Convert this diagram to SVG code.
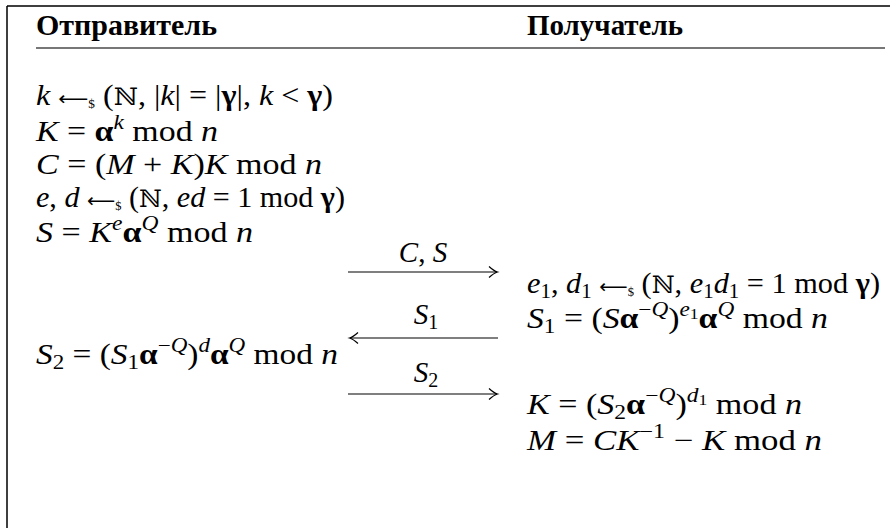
<svg xmlns="http://www.w3.org/2000/svg" width="890" height="528" viewBox="0 0 890 528">
<defs>
<style>
.m{font-family:"Liberation Serif","Times New Roman","DejaVu Serif",serif;font-size:29px;fill:#000}
.h{font-family:"Liberation Serif","Times New Roman","DejaVu Serif",serif;font-size:29px;font-weight:bold;fill:#000}
.i{font-style:italic}
.b{font-weight:bold}
.s{font-size:20px}
.ss{font-size:15px}
.n{font-family:"DejaVu Serif",serif;font-size:24px}
.ar{font-family:"DejaVu Sans",sans-serif;font-size:19px}
.d{font-size:12px}
.line{stroke:#000;stroke-width:1.2;fill:none}
</style>
<marker id="ah" markerWidth="14" markerHeight="14" refX="0" refY="0" viewBox="-10 -7 12 14" orient="auto-start-reverse" markerUnits="userSpaceOnUse">
<path d="M-8,-5.5 Q-3,-1 0.5,0 Q-3,1 -8,5.5" stroke="#000" stroke-width="1.2" fill="none"/>
</marker>
</defs>
<rect width="890" height="528" fill="#fff"/>
<g id="frame">
<path d="M7,6 H890 M7,6 V528" stroke="#000" stroke-width="1.5" fill="none"/>
<path d="M36,48 H885" stroke="#777" stroke-width="1.8"/>
</g>
<g id="sender" font-family="Liberation Serif, serif">
<text class="h" x="36" y="35" textLength="181" lengthAdjust="spacingAndGlyphs">Отправитель</text>
<text class="m" x="36" y="105" textLength="297" lengthAdjust="spacingAndGlyphs"><tspan class="i">k</tspan> <tspan class="ar">⟵</tspan><tspan class="d" dy="3">$</tspan><tspan dy="-3"> (</tspan><tspan class="n">ℕ</tspan>, |<tspan class="i">k</tspan>| = |<tspan class="b">γ</tspan>|, <tspan class="i">k</tspan> &lt; <tspan class="b">γ</tspan>)</text>
<text class="m" x="36" y="141" textLength="182" lengthAdjust="spacingAndGlyphs"><tspan class="i">K</tspan> = <tspan class="b">α</tspan><tspan class="s i" dy="-12">k</tspan><tspan dy="12"> mod </tspan><tspan class="i">n</tspan></text>
<text class="m" x="36" y="174" textLength="286" lengthAdjust="spacingAndGlyphs"><tspan class="i">C</tspan> = (<tspan class="i">M</tspan> + <tspan class="i">K</tspan>)<tspan class="i">K</tspan> mod <tspan class="i">n</tspan></text>
<text class="m" x="36" y="207" textLength="309" lengthAdjust="spacingAndGlyphs"><tspan class="i">e</tspan>, <tspan class="i">d</tspan> <tspan class="ar">⟵</tspan><tspan class="d" dy="3">$</tspan><tspan dy="-3"> (</tspan><tspan class="n">ℕ</tspan>, <tspan class="i">ed</tspan> = 1 mod <tspan class="b">γ</tspan>)</text>
<text class="m" x="36" y="242" textLength="217" lengthAdjust="spacingAndGlyphs"><tspan class="i">S</tspan> = <tspan class="i">K</tspan><tspan class="s i" dy="-12">e</tspan><tspan class="b" dy="12">α</tspan><tspan class="s i" dy="-12">Q</tspan><tspan dy="12"> mod </tspan><tspan class="i">n</tspan></text>
<text class="m" x="36" y="364" textLength="302" lengthAdjust="spacingAndGlyphs"><tspan class="i">S</tspan><tspan class="s" dy="5">2</tspan><tspan dy="-5"> = (</tspan><tspan class="i">S</tspan><tspan class="s" dy="5">1</tspan><tspan class="b" dy="-5">α</tspan><tspan class="s" dy="-12">−</tspan><tspan class="s i">Q</tspan><tspan dy="12">)</tspan><tspan class="s i" dy="-12">d</tspan><tspan class="b" dy="12">α</tspan><tspan class="s i" dy="-12">Q</tspan><tspan dy="12"> mod </tspan><tspan class="i">n</tspan></text>
</g>
<g id="receiver" font-family="Liberation Serif, serif">
<text class="h" x="527" y="35" textLength="156" lengthAdjust="spacingAndGlyphs">Получатель</text>
<text class="m" x="527" y="293" textLength="353" lengthAdjust="spacingAndGlyphs"><tspan class="i">e</tspan><tspan class="s" dy="5">1</tspan><tspan dy="-5">, </tspan><tspan class="i">d</tspan><tspan class="s" dy="5">1</tspan><tspan dy="-5"> </tspan><tspan class="ar">⟵</tspan><tspan class="d" dy="3">$</tspan><tspan dy="-3"> (</tspan><tspan class="n">ℕ</tspan>, <tspan class="i">e</tspan><tspan class="s" dy="5">1</tspan><tspan class="i" dy="-5">d</tspan><tspan class="s" dy="5">1</tspan><tspan dy="-5"> = 1 mod </tspan><tspan class="b">γ</tspan>)</text>
<text class="m" x="527" y="328" textLength="301" lengthAdjust="spacingAndGlyphs"><tspan class="i">S</tspan><tspan class="s" dy="5">1</tspan><tspan dy="-5"> = (</tspan><tspan class="i">S</tspan><tspan class="b">α</tspan><tspan class="s" dy="-12">−</tspan><tspan class="s i">Q</tspan><tspan dy="12">)</tspan><tspan class="s i" dy="-12">e</tspan><tspan class="ss" dy="3">1</tspan><tspan class="b" dy="9">α</tspan><tspan class="s i" dy="-12">Q</tspan><tspan dy="12"> mod </tspan><tspan class="i">n</tspan></text>
<text class="m" x="527" y="414" textLength="275" lengthAdjust="spacingAndGlyphs"><tspan class="i">K</tspan> = (<tspan class="i">S</tspan><tspan class="s" dy="5">2</tspan><tspan class="b" dy="-5">α</tspan><tspan class="s" dy="-12">−</tspan><tspan class="s i">Q</tspan><tspan dy="12">)</tspan><tspan class="s i" dy="-12">d</tspan><tspan class="ss" dy="3">1</tspan><tspan dy="9"> mod </tspan><tspan class="i">n</tspan></text>
<text class="m" x="527" y="450" textLength="295" lengthAdjust="spacingAndGlyphs"><tspan class="i">M</tspan> = <tspan class="i">CK</tspan><tspan class="s" dy="-12">−1</tspan><tspan dy="12"> − </tspan><tspan class="i">K</tspan> mod <tspan class="i">n</tspan></text>
</g>
<g id="connectors" font-family="Liberation Serif, serif">
<line class="line" x1="348" y1="272" x2="497" y2="272" marker-end="url(#ah)"/>
<text class="m" x="423" y="262" text-anchor="middle"><tspan class="i">C</tspan>, <tspan class="i">S</tspan></text>
<line class="line" x1="350" y1="338" x2="498" y2="338" marker-start="url(#ah)"/>
<text class="m" x="426" y="324" text-anchor="middle"><tspan class="i">S</tspan><tspan class="s" dy="5">1</tspan></text>
<line class="line" x1="348" y1="394" x2="497" y2="394" marker-end="url(#ah)"/>
<text class="m" x="426" y="382" text-anchor="middle"><tspan class="i">S</tspan><tspan class="s" dy="5">2</tspan></text>
</g>
</svg>
